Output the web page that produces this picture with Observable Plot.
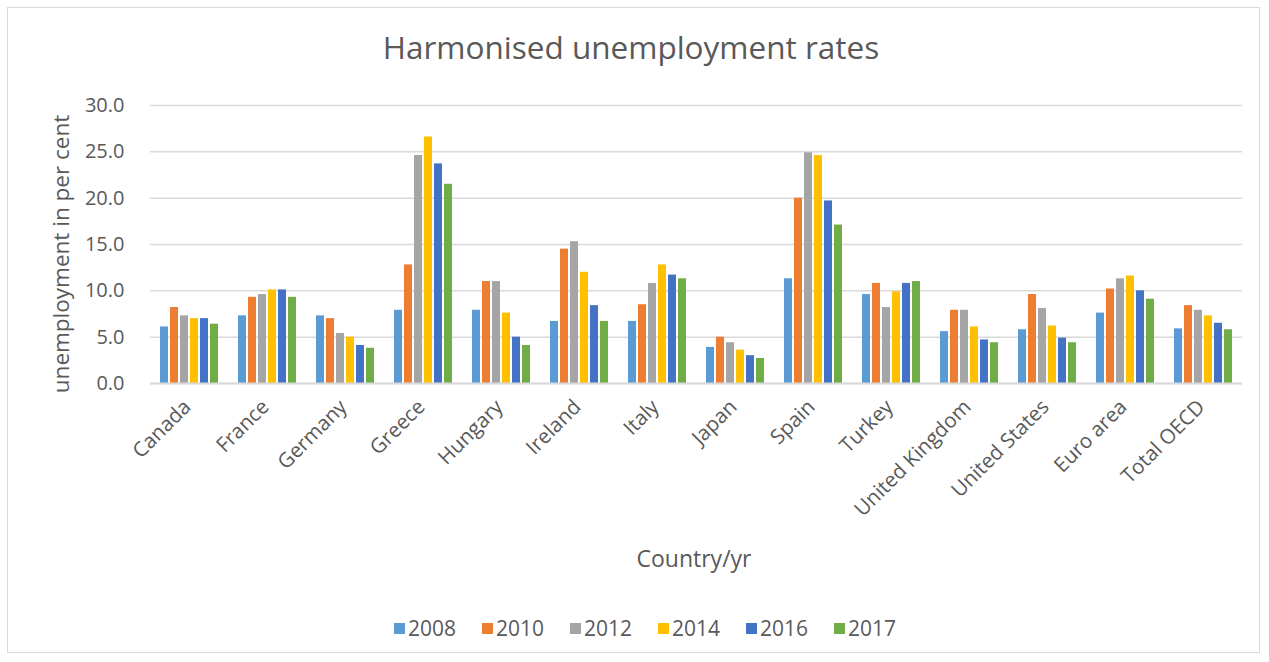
<!DOCTYPE html>
<html>
<head>
<meta charset="utf-8">
<script src="https://cdn.jsdelivr.net/npm/d3@7"></script>
<script src="https://cdn.jsdelivr.net/npm/@observablehq/plot@0.6"></script>
<style>
  body { margin: 0; background: #fff; font-family: "Open Sans", sans-serif; color: #595959; }
  #frame { position: absolute; left: 7px; top: 7px; width: 1253px; height: 646px; border: 1.5px solid #d9d9d9; box-sizing: border-box; }
  #title { position: absolute; left: 0; width: 1262px; top: 25px; text-align: center; font-size: 31.5px; line-height: 44px; }
  #ylabel { position: absolute; left: 60px; top: 254px; transform: translate(-50%, -50%) rotate(-90deg); white-space: nowrap; font-size: 22.5px; }
  #chart { position: absolute; left: 0; top: 85px; }
  #xlabel { position: absolute; left: 694px; top: 558px; transform: translate(-50%, -50%); font-size: 23px; white-space: nowrap; }
  #legend { position: absolute; left: 0; width: 1290px; top: 628px; transform: translateY(-50%); display: flex; justify-content: center; gap: 26px; font-size: 21px; }
  #legend .item { display: flex; align-items: center; gap: 3px; }
  #legend .sw { width: 11px; height: 11px; display: inline-block; }
</style>
</head>
<body>
<div id="frame"></div>
<div id="title">Harmonised unemployment rates</div>
<div id="ylabel">unemployment in per cent</div>
<div id="chart"></div>
<div id="xlabel">Country/yr</div>
<div id="legend"></div>
<script>
const countries = ["Canada","France","Germany","Greece","Hungary","Ireland","Italy","Japan","Spain","Turkey","United Kingdom","United States","Euro area","Total OECD"];
const years = ["2008","2010","2012","2014","2016","2017"];
const colors = ["#5B9BD5","#ED7D31","#A5A5A5","#FFC000","#4472C4","#70AD47"];
const yTicks = [0, 5, 10, 15, 20, 25, 30];

const v2008 = [6.1, 7.3, 7.3, 7.9, 7.9, 6.7, 6.7, 3.9, 11.3, 9.6, 5.6, 5.8, 7.6, 5.9];
const v2010 = [8.2, 9.3, 7.0, 12.8, 11.0, 14.5, 8.5, 5.0, 20.0, 10.8, 7.9, 9.6, 10.2, 8.4];
const v2012 = [7.3, 9.6, 5.4, 24.6, 11.0, 15.3, 10.8, 4.4, 24.9, 8.2, 7.9, 8.1, 11.3, 7.9];
const v2014 = [7.0, 10.1, 5.0, 26.6, 7.6, 12.0, 12.8, 3.6, 24.6, 9.9, 6.1, 6.2, 11.6, 7.3];
const v2016 = [7.0, 10.1, 4.1, 23.7, 5.0, 8.4, 11.7, 3.0, 19.7, 10.8, 4.7, 4.9, 10.0, 6.5];
const v2017 = [6.4, 9.3, 3.8, 21.5, 4.1, 6.7, 11.3, 2.7, 17.1, 11.0, 4.4, 4.4, 9.1, 5.8];

const series = [v2008, v2010, v2012, v2014, v2016, v2017];
const data = [];
years.forEach((yr, j) => {
  countries.forEach((c, i) => data.push({country: c, year: yr, value: series[j][i]}));
});

const chart = Plot.plot({
  width: 1269,
  height: 458,
  marginLeft: 147,
  marginRight: 25,
  marginTop: 20,
  marginBottom: 160,
  style: { fontFamily: "'Open Sans', sans-serif", color: "#595959", background: "transparent" },
  fx: { domain: countries, padding: 0, label: null },
  x: { domain: years, paddingInner: 0.18, paddingOuter: 0.7, axis: null },
  y: { domain: [0, 30], label: null },
  color: { domain: years, range: colors },
  marks: [
    Plot.gridY(yTicks, { stroke: "#d9d9d9", strokeOpacity: 1, strokeWidth: 1.5 }),
    Plot.axisY(yTicks, { tickSize: 0, tickPadding: 26, fontSize: 20, fill: "#595959", tickFormat: d => d.toFixed(1), label: null }),
    Plot.axisFx({ anchor: "bottom", tickRotate: -45, tickSize: 0, tickPadding: 20, dx: -2, fontSize: 20.5, fill: "#595959", label: null }),
    Plot.barY(data, { fx: "country", x: "year", y: "value", fill: "year" }),
    Plot.ruleY([0], { stroke: "#d9d9d9", strokeWidth: 2 })
  ]
});
document.getElementById("chart").appendChild(chart);

const legend = document.getElementById("legend");
years.forEach((yr, j) => {
  const item = document.createElement("div");
  item.className = "item";
  const sw = document.createElement("span");
  sw.className = "sw";
  sw.style.background = colors[j];
  const t = document.createElement("span");
  t.textContent = yr;
  item.appendChild(sw);
  item.appendChild(t);
  legend.appendChild(item);
});
</script>
</body>
</html>
